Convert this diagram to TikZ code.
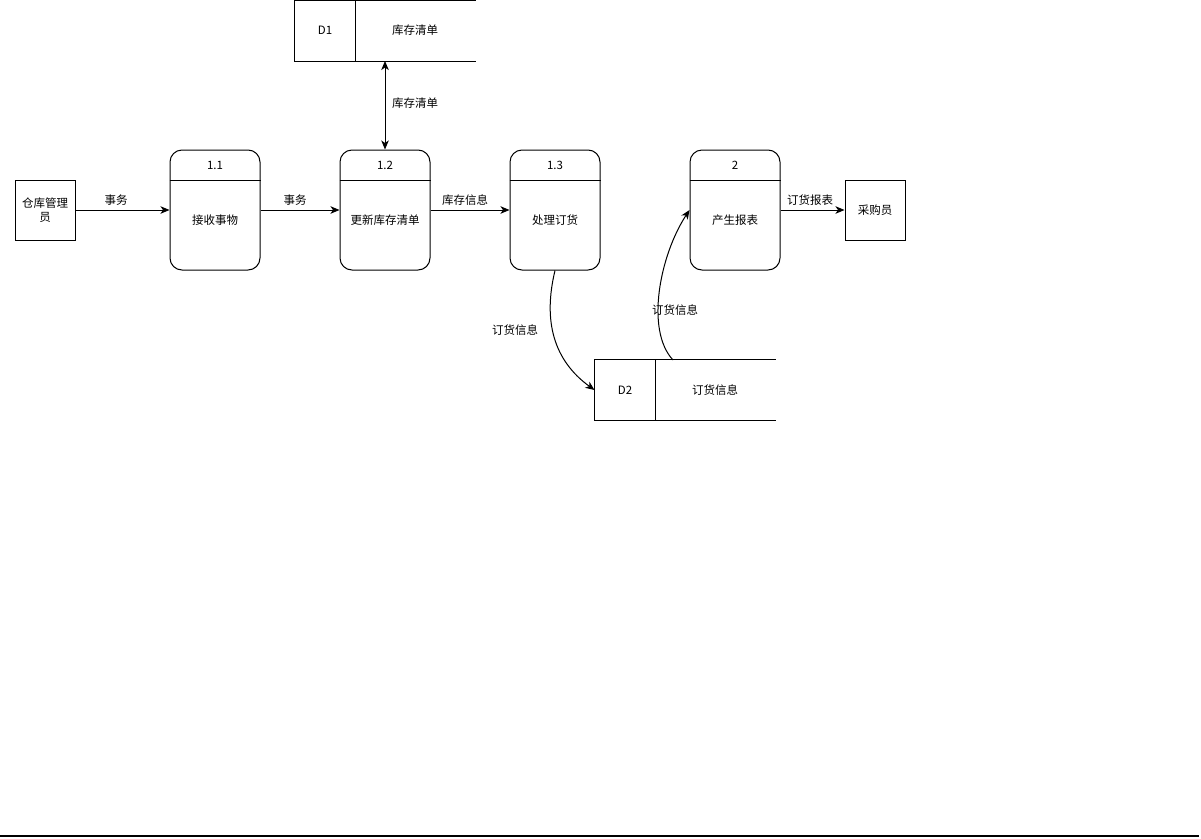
\documentclass[tikz,border=0pt]{standalone}
\usepackage{fontspec}
\setmainfont{Noto Sans CJK SC}
\usetikzlibrary{arrows.meta}
\begin{document}
\begin{tikzpicture}[x=1pt,y=-1pt, font=\fontsize{11.5}{14}\selectfont, line width=1pt,
 ent/.style={draw, minimum width=60pt, minimum height=60pt, inner sep=0pt, align=center},
 proc/.style={draw, rounded corners=12pt, minimum width=90pt, minimum height=120pt, inner sep=0pt},
 store/.style={minimum width=180pt, minimum height=60pt, inner sep=0pt},
 lab/.style={inner sep=1pt},
 arr/.style={-{Stealth[length=9pt,width=7.5pt,inset=2.5pt]}},
 darr/.style={{Stealth[length=9pt,width=7.5pt,inset=2.5pt]}-{Stealth[length=9pt,width=7.5pt,inset=2.5pt]}},
]
\useasboundingbox (0,0) rectangle (1201,838);

% entities
\node[ent] (wh) at (45,210) {仓库管理\\员};
\node[ent] (buyer) at (875,210) {采购员};

% processes
\foreach \n/\x/\num/\txt in {p11/215/1.1/接收事物, p12/385/1.2/更新库存清单, p13/555/1.3/处理订货, p2/735/2/产生报表}{
  \node[proc] (\n) at (\x,210) {};
  \draw (\n.west |- 0,180) -- (\n.east |- 0,180);
  \node[lab] (\n-num) at (\x,165) {\num};
  \node[lab] (\n-txt) at (\x,220) {\txt};
}

% stores
\node[store] (d1) at (385,30.5) {};
\draw (d1.north east) -- (d1.north west) -- (d1.south west) -- (d1.south east);
\draw (355,0.5) -- (355,60.5);
\node[lab] (d1-id) at (325,30) {D1};
\node[lab] (d1-txt) at (415,30) {库存清单};

\node[store] (d2) at (685,390) {};
\draw (d2.north east) -- (d2.north west) -- (d2.south west) -- (d2.south east);
\draw (655,360) -- (655,420);
\node[lab] (d2-id) at (625,390) {D2};
\node[lab] (d2-txt) at (715,390) {订货信息};

% flows
\draw[arr] (wh.east) -- (p11.west);
\node[lab] (l1) at (116,200) {事务};
\draw[arr] (p11.east) -- (p12.west);
\node[lab] (l2) at (295,200) {事务};
\draw[arr] (p12.east) -- (p13.west);
\node[lab] (l3) at (465,200) {库存信息};
\draw[arr] (p2.east) -- (buyer.west);
\node[lab] (l4) at (810,200) {订货报表};

\draw[darr] (d1.south) -- (p12.north);
\node[lab, fill=white] (l5) at (415,103) {库存清单};

\draw[arr] (p13.south) .. controls (543,320) and (553,360) .. (d2.west);
\node[lab] (l6) at (515,330) {订货信息};

\coordinate (d2top) at (673,360);
\draw[arr] (d2top) .. controls (645,330) and (660,255) .. (p2.west);
\node[lab] (l7) at (675,310) {订货信息};

% bottom rule
\draw[line width=1.3pt] (0,836) -- (1199,836);
\end{tikzpicture}
\end{document}
